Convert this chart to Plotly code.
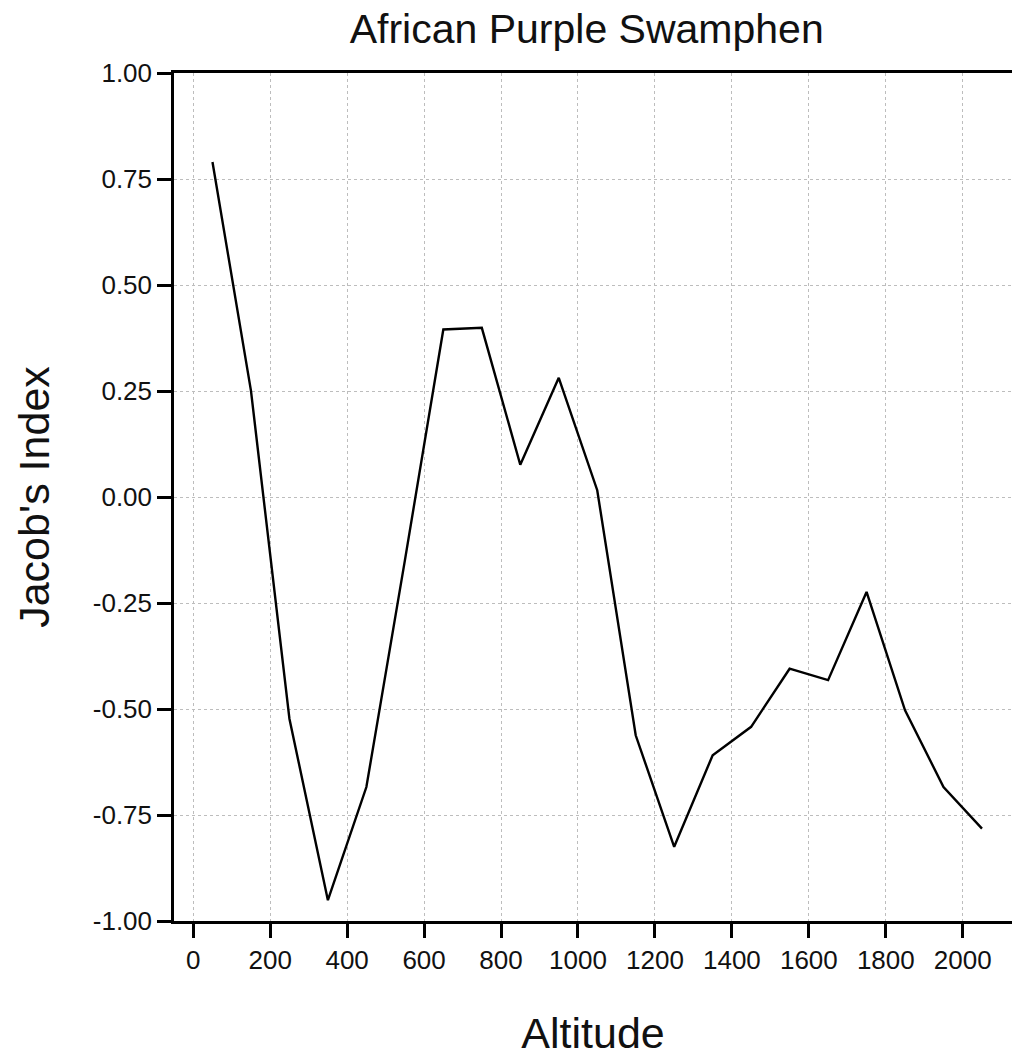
import plotly.graph_objects as go

altitude = [50, 150, 250, 350, 450, 550, 650, 750, 850, 950, 1050,
            1150, 1250, 1350, 1450, 1550, 1650, 1750, 1850, 1950, 2050]
jacobs_index = [0.79, 0.251, -0.523, -0.951, -0.684, -0.15, 0.395, 0.399, 0.076, 0.281, 0.016,
                -0.562, -0.825, -0.609, -0.542, -0.405, -0.432, -0.224, -0.503, -0.684, -0.782]

x_ticks = [0, 200, 400, 600, 800, 1000, 1200, 1400, 1600, 1800, 2000]
y_ticks = [-1.0, -0.75, -0.5, -0.25, 0.0, 0.25, 0.5, 0.75, 1.0]
y_ticklabels = ["-1.00", "-0.75", "-0.50", "-0.25", "0.00", "0.25", "0.50", "0.75", "1.00"]

FONT = "Liberation Sans, Arial, Helvetica, sans-serif"

fig = go.Figure()
fig.add_trace(go.Scatter(
    x=altitude, y=jacobs_index, mode="lines",
    line=dict(color="black", width=2.4),
    showlegend=False, hoverinfo="x+y",
))

fig.update_layout(
    width=1012, height=1057,
    margin=dict(l=174, r=0, t=73, b=136),
    paper_bgcolor="white", plot_bgcolor="white",
    font=dict(family=FONT, color="#111111"),
    title=dict(text="African Purple Swamphen", font=dict(size=41, family=FONT, color="#111111"),
               x=586.7 / 1012, xref="container", xanchor="center",
               y=1 - 29 / 1057, yref="container", yanchor="middle"),
    xaxis=dict(
        range=[-50, 2128], tickvals=x_ticks, ticktext=[str(v) for v in x_ticks],
        showline=True, linecolor="black", linewidth=2.5, mirror=True,
        ticks="outside", ticklen=14, tickwidth=2.5, tickcolor="black",
        tickfont=dict(size=26, family=FONT, color="#111111"),
        showgrid=True, gridcolor="#bdbdbd", gridwidth=1, griddash="dot",
        zeroline=False,
        title=dict(text="Altitude", font=dict(size=43, family=FONT, color="#111111"), standoff=46),
    ),
    yaxis=dict(
        range=[-1, 1], tickvals=y_ticks, ticktext=y_ticklabels,
        showline=True, linecolor="black", linewidth=2.5,
        ticks="outside", ticklen=14, tickwidth=2.5, tickcolor="black",
        tickfont=dict(size=26, family=FONT, color="#111111"),
        showgrid=True, gridcolor="#bdbdbd", gridwidth=1, griddash="dot",
        zeroline=False,
        title=dict(text="Jacob's Index", font=dict(size=43, family=FONT, color="#111111"), standoff=30),
    ),
)

fig.write_html("out.html")
